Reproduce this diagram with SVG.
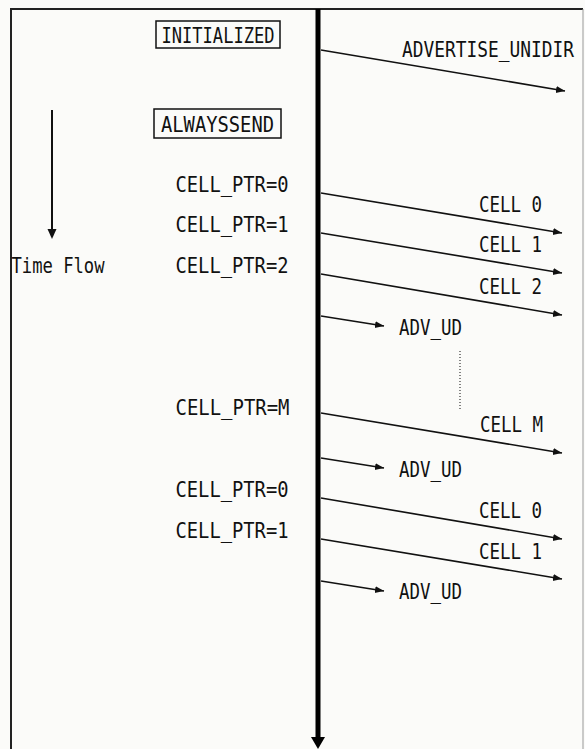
<svg xmlns="http://www.w3.org/2000/svg" width="585" height="749" viewBox="0 0 585 749">
<style>
text{font-family:"DejaVu Sans Mono","Liberation Mono",monospace;font-size:22px;fill:#111;}
.box{fill:none;stroke:#111;stroke-width:1.5;}
.msg{stroke:#111;stroke-width:1.6;fill:none;marker-end:url(#ah);}
</style>
<defs>
<marker id="ah" markerUnits="userSpaceOnUse" markerWidth="10" markerHeight="8" refX="9" refY="3.5" orient="auto">
<path d="M0,0 L9,3.5 L0,7 z" fill="#111"/>
</marker>
</defs>
<rect x="0" y="0" width="585" height="749" fill="#fbfbf9"/>
<g id="frame">
<path d="M11,770 L11,9 L583,9" fill="none" stroke="#222" stroke-width="2"/>
<line x1="583" y1="9" x2="583" y2="749" stroke="#999" stroke-width="1"/>
</g>
<g id="lifeline">
<line x1="318" y1="9" x2="318" y2="739" stroke="#000" stroke-width="5"/>
<path d="M311,737 L325,737 L318,749 z" fill="#000"/>
</g>
<g id="timeflow">
<line x1="52" y1="110" x2="52" y2="230" stroke="#111" stroke-width="2"/>
<path d="M47.5,229 L56.5,229 L52,239 z" fill="#111"/>
<text x="11.5" y="273" textLength="93" lengthAdjust="spacingAndGlyphs">Time Flow</text>
</g>
<g id="initialized">
<rect class="box" x="156" y="21" width="124" height="27"/>
<text x="161.5" y="43" textLength="113" lengthAdjust="spacingAndGlyphs">INITIALIZED</text>
</g>
<g id="alwayssend">
<rect class="box" x="154" y="109" width="127" height="29"/>
<text x="161" y="132" textLength="113" lengthAdjust="spacingAndGlyphs">ALWAYSSEND</text>
</g>
<g id="ptr-labels">
<text x="175.5" y="192" textLength="113" lengthAdjust="spacingAndGlyphs">CELL_PTR=0</text>
<text x="175.5" y="232" textLength="113" lengthAdjust="spacingAndGlyphs">CELL_PTR=1</text>
<text x="175.5" y="273" textLength="113" lengthAdjust="spacingAndGlyphs">CELL_PTR=2</text>
<text x="175.5" y="415" textLength="114" lengthAdjust="spacingAndGlyphs">CELL_PTR=M</text>
<text x="175.5" y="497" textLength="113" lengthAdjust="spacingAndGlyphs">CELL_PTR=0</text>
<text x="175.5" y="538" textLength="113" lengthAdjust="spacingAndGlyphs">CELL_PTR=1</text>
</g>
<g id="connectors">
<line class="msg" x1="321" y1="50" x2="565" y2="91"/>
<line class="msg" x1="321" y1="193" x2="562" y2="233"/>
<line class="msg" x1="321" y1="233" x2="562" y2="273"/>
<line class="msg" x1="321" y1="274" x2="562" y2="315"/>
<line class="msg" x1="321" y1="316" x2="384" y2="326"/>
<line class="msg" x1="321" y1="413" x2="562" y2="453"/>
<line class="msg" x1="321" y1="458" x2="384" y2="468"/>
<line class="msg" x1="321" y1="498" x2="562" y2="539"/>
<line class="msg" x1="321" y1="539" x2="562" y2="579"/>
<line class="msg" x1="321" y1="581" x2="384" y2="591"/>
<line x1="460" y1="351" x2="460" y2="411" stroke="#333" stroke-width="1.2" stroke-dasharray="1 2"/>
</g>
<g id="msg-labels">
<text x="402" y="57" textLength="172" lengthAdjust="spacingAndGlyphs">ADVERTISE_UNIDIR</text>
<text x="479" y="212" textLength="63" lengthAdjust="spacingAndGlyphs">CELL 0</text>
<text x="479" y="252" textLength="63" lengthAdjust="spacingAndGlyphs">CELL 1</text>
<text x="479" y="294" textLength="63" lengthAdjust="spacingAndGlyphs">CELL 2</text>
<text x="399" y="335" textLength="63" lengthAdjust="spacingAndGlyphs">ADV_UD</text>
<text x="480" y="432" textLength="63" lengthAdjust="spacingAndGlyphs">CELL M</text>
<text x="399" y="477" textLength="63" lengthAdjust="spacingAndGlyphs">ADV_UD</text>
<text x="479" y="518" textLength="63" lengthAdjust="spacingAndGlyphs">CELL 0</text>
<text x="479" y="559" textLength="63" lengthAdjust="spacingAndGlyphs">CELL 1</text>
<text x="399" y="599" textLength="63" lengthAdjust="spacingAndGlyphs">ADV_UD</text>
</g>
</svg>
